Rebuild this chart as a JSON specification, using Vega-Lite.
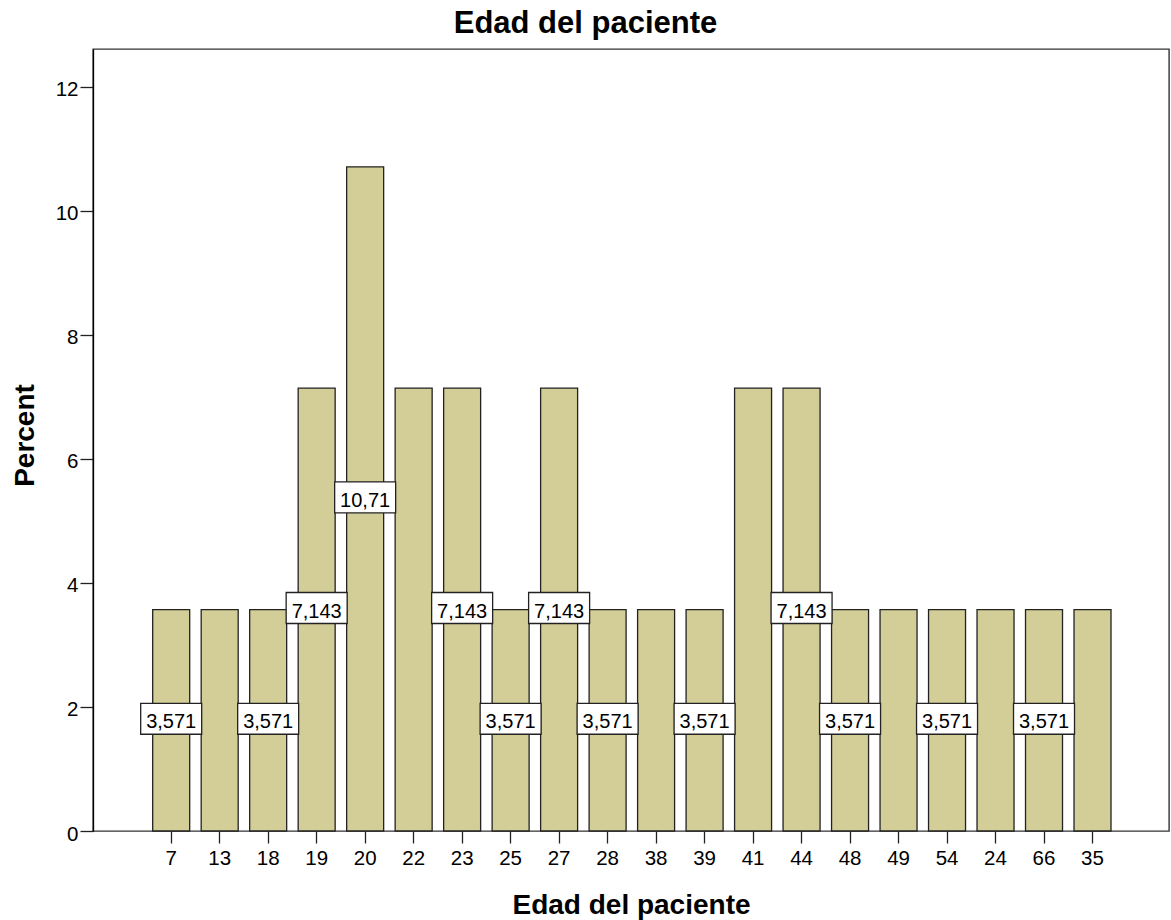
{
  "$schema": "https://vega.github.io/schema/vega-lite/v6.json",
  "autosize": {"type": "none"},
  "padding": {"left": 93, "top": 49, "right": 2, "bottom": 89},
  "width": 1076,
  "height": 782,
  "background": "white",
  "title": {"text": "Edad del paciente", "fontSize": 31, "fontWeight": "bold", "font": "Liberation Sans", "color": "#000", "anchor": "middle", "frame": "group", "dx": -45.5, "baseline": "alphabetic", "offset": -15},
  "config": {
    "font": "Liberation Sans",
    "view": {"stroke": "#333", "strokeWidth": 1.4}
  },
  "data": {
    "values": [
      {"edad": "7", "percent": 3.571, "label": "3,571"},
      {"edad": "13", "percent": 3.571},
      {"edad": "18", "percent": 3.571, "label": "3,571"},
      {"edad": "19", "percent": 7.143, "label": "7,143"},
      {"edad": "20", "percent": 10.71, "label": "10,71"},
      {"edad": "22", "percent": 7.143},
      {"edad": "23", "percent": 7.143, "label": "7,143"},
      {"edad": "25", "percent": 3.571, "label": "3,571"},
      {"edad": "27", "percent": 7.143, "label": "7,143"},
      {"edad": "28", "percent": 3.571, "label": "3,571"},
      {"edad": "38", "percent": 3.571},
      {"edad": "39", "percent": 3.571, "label": "3,571"},
      {"edad": "41", "percent": 7.143},
      {"edad": "44", "percent": 7.143, "label": "7,143"},
      {"edad": "48", "percent": 3.571, "label": "3,571"},
      {"edad": "49", "percent": 3.571},
      {"edad": "54", "percent": 3.571, "label": "3,571"},
      {"edad": "24", "percent": 3.571},
      {"edad": "66", "percent": 3.571, "label": "3,571"},
      {"edad": "35", "percent": 3.571}
    ]
  },
  "encoding": {
    "x": {
      "field": "edad", "type": "nominal",
      "scale": {"domain": ["7","13","18","19","20","22","23","25","27","28","38","39","41","44","48","49","54","24","66","35"], "range": [11.2, 1066.5], "paddingInner": 0.237, "paddingOuter": 1},
      "axis": {"title": "Edad del paciente", "labelAngle": 0, "labelFontSize": 20.5, "labelColor": "#000", "labelPadding": 5, "tickSize": 12, "tickColor": "#222", "tickWidth": 1.3, "domain": false, "grid": false, "titleFontSize": 28, "titleFontWeight": "bold", "titleColor": "#000", "titleBaseline": "alphabetic", "titleX": 538, "titleY": 82}
    }
  },
  "layer": [
    {
      "mark": {"type": "bar", "fill": "#D3CE97", "stroke": "#222", "strokeWidth": 1.3},
      "encoding": {
        "y": {
          "field": "percent", "type": "quantitative",
          "scale": {"domain": [0, 12.61], "nice": false, "zero": true},
          "axis": {"title": "Percent", "values": [0,2,4,6,8,10,12], "grid": false, "labelFontSize": 20.5, "labelColor": "#000", "labelPadding": 2, "labelOffset": 3, "tickSize": 13, "tickColor": "#222", "tickWidth": 1.3, "domainColor": "#000", "domainWidth": 1.3, "titleFontSize": 28, "titleFontWeight": "bold", "titleColor": "#000", "titleBaseline": "alphabetic", "titleAlign": "center", "titleAngle": -90, "titleX": -60, "titleY": 386}
        }
      }
    },
    {
      "transform": [{"filter": "datum.label"}],
      "encoding": {
        "y": {"field": "percent", "type": "quantitative", "scale": {"domain": [0, 25.22], "nice": false, "zero": true}, "axis": null}
      },
      "layer": [
        {
          "mark": {"type": "point", "shape": "M-1,-0.508H1V0.508H-1Z", "size": 3721, "filled": true, "fill": "white", "stroke": "#222", "strokeWidth": 1.3, "opacity": 1, "yOffset": -1.5}
        },
        {
          "mark": {"type": "text", "fontSize": 20, "color": "#000", "baseline": "middle", "align": "center", "dy": 2},
          "encoding": {"text": {"field": "label", "type": "nominal"}}
        }
      ]
    }
  ],
  "resolve": {"scale": {"y": "independent"}}
}
